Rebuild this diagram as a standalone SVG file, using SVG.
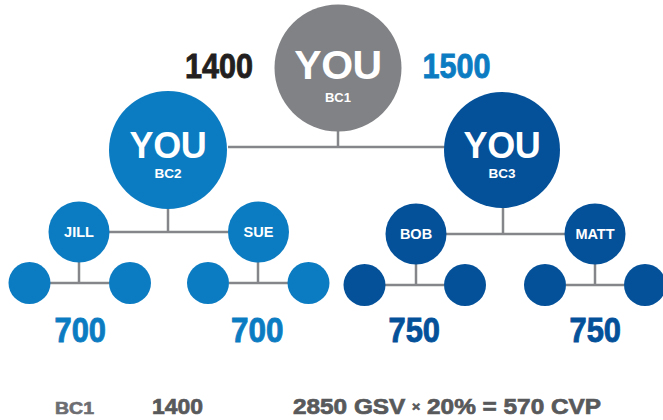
<svg xmlns="http://www.w3.org/2000/svg" width="663" height="420" viewBox="0 0 663 420">
<style>
.lb{fill:#0c7cc2}
.db{fill:#04519a}
.gy{fill:#818285}
.ln{stroke:#858689;stroke-width:2.5;fill:none}
.big{font-family:"Liberation Sans",Arial,sans-serif;font-weight:bold;fill:#fff;text-anchor:middle}
.nm{font-family:"Liberation Sans",Arial,sans-serif;font-weight:bold;fill:#fff;text-anchor:middle;font-size:14.5px}
.num{font-family:"Liberation Sans Narrow","Liberation Sans",Arial,sans-serif;font-weight:bold;font-size:35px;stroke-width:0.9px}
.bt{font-family:"Liberation Sans Narrow","Liberation Sans",Arial,sans-serif;font-weight:bold;font-size:22.5px;fill:#58595b;stroke:#58595b;stroke-width:0.7px}
</style>
<rect width="663" height="420" fill="#fff"/>
<g id="connectors" class="ln">
<path d="M338 131V147M228 147H445M168 208V232M109 232H228M503 208V234M446 234H565"/>
<path d="M79 262V283M50 283H109M258 262V283M229 283H288M416 264V285M385 285H444M595 264V285M566 285H624"/>
</g>
<g id="bc1"><circle class="gy" cx="338" cy="68" r="63.5"/>
<text class="big" x="338" y="79" font-size="41" letter-spacing="-0.5">YOU</text>
<text class="big" x="338" y="102" font-size="13">BC1</text></g>
<g id="bc2"><circle class="lb" cx="168" cy="150" r="59"/>
<text class="big" x="168" y="158" font-size="36" letter-spacing="-0.4">YOU</text>
<text class="big" x="168" y="178" font-size="13.5">BC2</text></g>
<g id="bc3"><circle class="db" cx="502" cy="150" r="58"/>
<text class="big" x="502" y="158" font-size="36" letter-spacing="-0.4">YOU</text>
<text class="big" x="502" y="178" font-size="13.5">BC3</text></g>
<g id="jill"><circle class="lb" cx="79" cy="232" r="30.5"/><text class="nm" x="79" y="237">JILL</text></g>
<g id="sue"><circle class="lb" cx="258.5" cy="232" r="30.5"/><text class="nm" x="258.5" y="237">SUE</text></g>
<g id="bob"><circle class="db" cx="416" cy="234" r="30.5"/><text class="nm" x="416" y="239">BOB</text></g>
<g id="matt"><circle class="db" cx="595" cy="234" r="30.5"/><text class="nm" x="595" y="239">MATT</text></g>
<g id="j1"><circle class="lb" cx="29.5" cy="283" r="21"/></g>
<g id="j2"><circle class="lb" cx="130" cy="283" r="21"/></g>
<g id="s1"><circle class="lb" cx="208" cy="283" r="21"/></g>
<g id="s2"><circle class="lb" cx="308.5" cy="283" r="21"/></g>
<g id="b1"><circle class="db" cx="364.5" cy="285" r="21"/></g>
<g id="b2"><circle class="db" cx="465" cy="285" r="21"/></g>
<g id="m1"><circle class="db" cx="545" cy="285" r="21"/></g>
<g id="m2"><circle class="db" cx="645" cy="285" r="21"/></g>
<g id="labels">
<text class="num" x="185" y="78" fill="#231f20" stroke="#231f20" textLength="68" lengthAdjust="spacingAndGlyphs">1400</text>
<text class="num" x="422.5" y="78" fill="#0c7cc2" stroke="#0c7cc2" textLength="68" lengthAdjust="spacingAndGlyphs">1500</text>
<text class="num" x="54.5" y="341.5" fill="#0c7cc2" stroke="#0c7cc2" textLength="51.5" lengthAdjust="spacingAndGlyphs">700</text>
<text class="num" x="231" y="341.5" fill="#0c7cc2" stroke="#0c7cc2" textLength="52.5" lengthAdjust="spacingAndGlyphs">700</text>
<text class="num" x="388.5" y="341.5" fill="#04519a" stroke="#04519a" textLength="51.5" lengthAdjust="spacingAndGlyphs">750</text>
<text class="num" x="569.5" y="341.5" fill="#04519a" stroke="#04519a" textLength="51.5" lengthAdjust="spacingAndGlyphs">750</text>
<text x="55" y="413.5" font-family="'Liberation Sans',Arial,sans-serif" font-weight="bold" font-size="16" fill="#6d6e71" stroke="#6d6e71" stroke-width="0.6" textLength="39" lengthAdjust="spacingAndGlyphs">BC1</text>
<text class="bt" x="152" y="413.5" textLength="51" lengthAdjust="spacingAndGlyphs">1400</text>
<text class="bt" x="293" y="413.5" textLength="308" lengthAdjust="spacingAndGlyphs">2850 GSV <tspan font-size="13" dy="-3">×</tspan><tspan dy="3"> 20% = 570 CVP</tspan></text>
</g>
</svg>
